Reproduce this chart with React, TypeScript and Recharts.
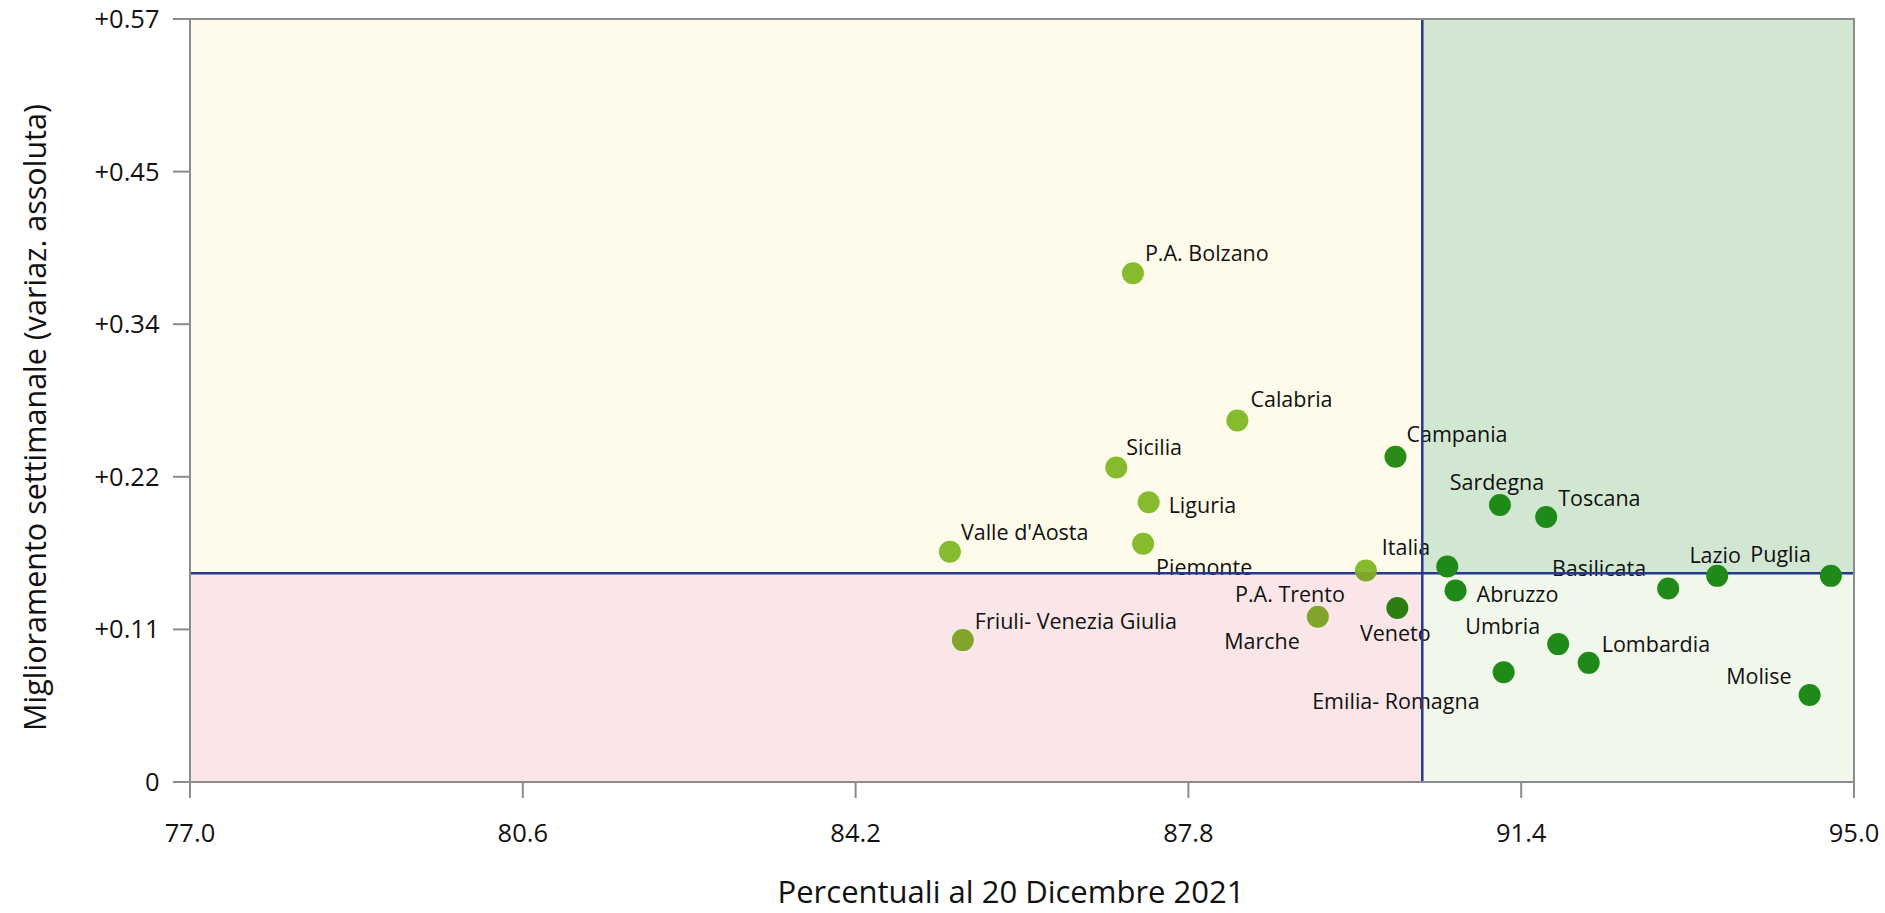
import React from 'react';
import { ScatterChart, Scatter, XAxis, YAxis, ReferenceArea, ReferenceLine } from 'recharts';

// Regions and their values (x = coverage %, y = weekly improvement)
const regions = [
  'P.A. Bolzano', 'Calabria', 'Sicilia', 'Liguria', "Valle d'Aosta", 'Piemonte',
  'P.A. Trento', 'Campania', 'Italia', 'Abruzzo', 'Friuli- Venezia Giulia', 'Marche',
  'Veneto', 'Sardegna', 'Toscana', 'Basilicata', 'Lazio', 'Puglia',
  'Umbria', 'Lombardia', 'Emilia- Romagna', 'Molise',
];
const coverage = [
  87.20, 88.33, 87.02, 87.37, 85.22, 87.31,
  89.72, 90.04, 90.60, 90.69, 85.36, 89.20,
  90.06, 91.17, 91.67, 92.99, 93.52, 94.75,
  91.80, 92.13, 91.21, 94.52,
];
const improvement = [
  0.380, 0.270, 0.235, 0.209, 0.172, 0.178,
  0.158, 0.243, 0.161, 0.143, 0.106, 0.1235,
  0.130, 0.207, 0.198, 0.1446, 0.154, 0.154,
  0.103, 0.089, 0.082, 0.065,
];

const xTicks = [77, 80.6, 84.2, 87.8, 91.4, 95];
const yTicks = [0, 0.114, 0.228, 0.342, 0.456, 0.57];
const splitX = 90.33;
const splitY = 0.156;
const xTitle = 'Percentuali al 20 Dicembre 2021';
const yTitle = 'Miglioramento settimanale (variaz. assoluta)';

// styling
const FONT = "'Open Sans', 'Noto Sans', sans-serif";
const TEXT = '#111';
const AXIS = '#8c8c8c';
const NAVY = '#26388a';
const LIGHT = '#86bb2e';
const OLIVE = '#80a52a';
const DARK = '#1f8a18';

const dotColor: Record<string, string> = {
  'P.A. Bolzano': LIGHT, Calabria: LIGHT, Sicilia: LIGHT, Liguria: LIGHT,
  "Valle d'Aosta": LIGHT, Piemonte: LIGHT, 'P.A. Trento': 'split',
  Campania: '#2a8b16', Italia: DARK, Abruzzo: DARK, 'Friuli- Venezia Giulia': OLIVE,
  Marche: OLIVE, Veneto: '#2d7e12', Sardegna: DARK, Toscana: DARK, Basilicata: DARK,
  Lazio: DARK, Puglia: DARK, Umbria: DARK, Lombardia: DARK, 'Emilia- Romagna': DARK, Molise: DARK,
};

// label placement relative to the dot: [anchor, dx, dy]
const labelPos: Record<string, [string, number, number]> = {
  'P.A. Bolzano': ['start', 12, -20],
  Calabria: ['start', 13, -21],
  Sicilia: ['start', 10, -20],
  Liguria: ['start', 20, 3],
  "Valle d'Aosta": ['start', 11, -20],
  Piemonte: ['start', 13, 24],
  'P.A. Trento': ['end', -21, 24],
  Campania: ['start', 11, -22],
  Italia: ['end', -17, -19],
  Abruzzo: ['start', 21, 4],
  'Friuli- Venezia Giulia': ['start', 12, -19],
  Marche: ['end', -18, 25],
  Veneto: ['middle', -2, 25],
  Sardegna: ['middle', -3, -23],
  Toscana: ['start', 12, -19],
  Basilicata: ['end', -22, -20],
  Lazio: ['middle', -2, -21],
  Puglia: ['end', -20, -22],
  Umbria: ['end', -18, -18],
  Lombardia: ['start', 13, -19],
  'Emilia- Romagna': ['end', -24, 29],
  Molise: ['end', -18, -19],
};

const data = regions.map((name, i) => ({ name, x: coverage[i], y: improvement[i] }));

const Dot = (props: any) => {
  const { cx, cy, payload } = props;
  const c = dotColor[payload.name];
  if (c === 'split') {
    return (
      <g>
        <defs>
          <linearGradient id="splitFill" x1="0" y1="0" x2="0" y2="1">
            <stop offset="0.57" stopColor={LIGHT} />
            <stop offset="0.57" stopColor={OLIVE} />
          </linearGradient>
        </defs>
        <circle cx={cx} cy={cy} r={11} fill="url(#splitFill)" />
      </g>
    );
  }
  return <circle cx={cx} cy={cy} r={11} fill={c} />;
};

const NameLabel = (props: any) => {
  const { cx, cy, payload } = props;
  const [anchor, dx, dy] = labelPos[payload.name];
  return (
    <text x={cx + dx} y={cy + dy} dy="0.36em" textAnchor={anchor as any}
      fontSize={21.5} fontFamily={FONT} fill={TEXT}>
      {payload.name}
    </text>
  );
};

const XTitle = (props: any) => {
  const vb = props.viewBox;
  return (
    <text x={vb.x + vb.width / 2 - 11} y={vb.y + 121} textAnchor="middle"
      fontSize={31} fontFamily={FONT} fill={TEXT}>
      {xTitle}
    </text>
  );
};

const YTitle = (props: any) => {
  const vb = props.viewBox;
  return (
    <text transform={`translate(46, ${vb.y + vb.height / 2 + 17}) rotate(-90)`} textAnchor="middle"
      fontSize={30.5} fontFamily={FONT} fill={TEXT}>
      {yTitle}
    </text>
  );
};

const fmtY = (v: number) => (v === 0 ? '0' : '+' + (Math.floor(v * 100 + 1e-6) / 100).toFixed(2));

export default function App() {
  return (
    <div style={{ position: 'absolute', left: 0, top: 0, background: '#fff' }}>
      <ScatterChart width={1885} height={913} margin={{ top: 19, right: 31, bottom: 0, left: 0 }}>
        <XAxis type="number" dataKey="x" domain={[77, 95]} ticks={xTicks} interval={0}
          tickFormatter={(v: number) => v.toFixed(1)} height={131} tickSize={16} tickMargin={26}
          axisLine={{ stroke: AXIS, strokeWidth: 2 }} tickLine={{ stroke: AXIS, strokeWidth: 2 }}
          tick={{ fill: TEXT, fontSize: 25.5, fontFamily: FONT }} label={<XTitle />} />
        <YAxis type="number" dataKey="y" domain={[0, 0.57]} ticks={yTicks} interval={0}
          tickFormatter={fmtY} width={190} tickSize={17} tickMargin={13.5}
          axisLine={{ stroke: AXIS, strokeWidth: 2 }} tickLine={{ stroke: AXIS, strokeWidth: 2 }}
          tick={{ fill: TEXT, fontSize: 25.5, fontFamily: FONT }} label={<YTitle />} />

        <ReferenceArea x1={77} x2={splitX} y1={splitY} y2={0.57} fill="#fffbeb" fillOpacity={1} stroke="none" zIndex={-10} />
        <ReferenceArea x1={splitX} x2={95} y1={splitY} y2={0.57} fill="#d2e7d2" fillOpacity={1} stroke="none" zIndex={-10} />
        <ReferenceArea x1={77} x2={splitX} y1={0} y2={splitY} fill="#fae6e8" fillOpacity={1} stroke="none" zIndex={-10} />
        <ReferenceArea x1={splitX} x2={95} y1={0} y2={splitY} fill="#f1f7ea" fillOpacity={1} stroke="none" zIndex={-10} />

        <Scatter data={data} shape={<NameLabel />} isAnimationActive={false} zIndex={450} />

        <ReferenceLine x={splitX} stroke={NAVY} strokeWidth={2.5} zIndex={500} />
        <ReferenceLine y={splitY} stroke={NAVY} strokeWidth={2.5} zIndex={500} />

        <Scatter data={data} shape={<Dot />} isAnimationActive={false} zIndex={600} />

        <ReferenceArea x1={77} x2={95} y1={0} y2={0.57} fill="none" stroke={AXIS} strokeWidth={2} zIndex={700} />
      </ScatterChart>
    </div>
  );
}
